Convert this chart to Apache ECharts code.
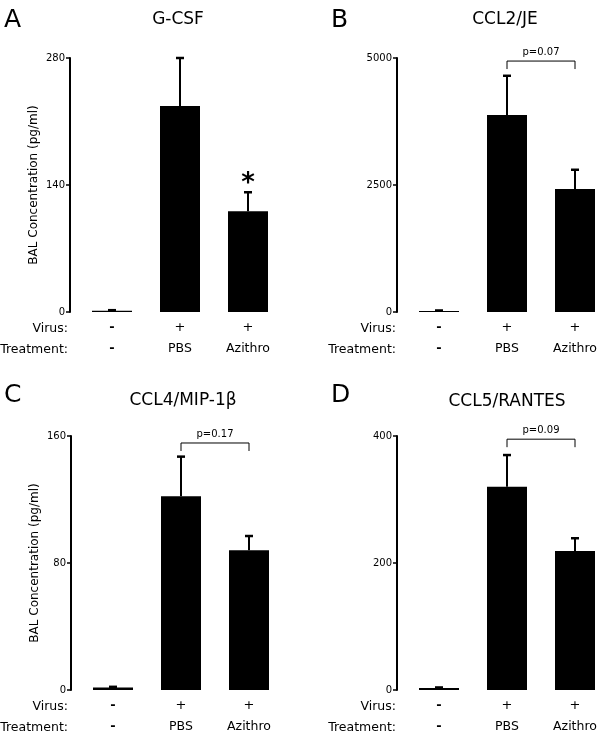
<!DOCTYPE html>
<html><head><meta charset="utf-8">
<script src="https://cdn.jsdelivr.net/npm/echarts@6/dist/echarts.min.js"></script>
<style>html,body{margin:0;padding:0;background:#fff}#c{width:600px;height:737px}</style>
</head><body><div id="c"></div>
<script>
const categories = ['Control', 'PBS', 'Azithro'];
const virusLabels = ['-', '+', '+'];
const treatmentLabels = ['-', 'PBS', 'Azithro'];

const panelLetters = ['A', 'B', 'C', 'D'];
const panelTitles = ['G-CSF', 'CCL2/JE', 'CCL4/MIP-1β', 'CCL5/RANTES'];

const gcsfMean = [1.5, 227, 111];
const gcsfErr = [0.5, 53, 21];
const ccl2Mean = [20, 3880, 2420];
const ccl2Err = [10, 770, 380];
const ccl4Mean = [1.5, 122, 88];
const ccl4Err = [0.5, 25, 9];
const ccl5Mean = [3, 320, 219];
const ccl5Err = [1, 50, 20];

const yMax = [280, 5000, 160, 400];
const yInterval = [140, 2500, 80, 200];
const sigMarks = [['', '', '*'], ['', '', ''], ['', '', ''], ['', '', '']];
const pTexts = [null, 'p=0.07', 'p=0.17', 'p=0.09'];
const bracketY = [null, 4940, 155.6, 395];

const means = [gcsfMean, ccl2Mean, ccl4Mean, ccl5Mean];
const errs = [gcsfErr, ccl2Err, ccl4Err, ccl5Err];

const FONT = 'DejaVu Sans';
const grids = [
  {left: 78, top: 58, width: 204, height: 254},
  {left: 405, top: 58, width: 204, height: 254},
  {left: 79, top: 436, width: 204, height: 254},
  {left: 405, top: 436, width: 204, height: 254}
].map(g => Object.assign(g, {containLabel: false, outerBoundsMode: 'none'}));

const chart = echarts.init(document.getElementById('c'), null, {renderer: 'canvas'});

const xAxes = [], yAxes = [], series = [], titles = [], graphics = [];
grids.forEach((g, i) => {
  xAxes.push({
    type: 'category', gridIndex: i, data: categories,
    axisLine: {show: false}, axisTick: {show: false},
    axisLabel: {
      margin: 5, interval: 0,
      formatter: (v, idx) => {
        const vv = virusLabels[idx] === '-' ? '{d|-}' : '{v|' + virusLabels[idx] + '}';
        const tt = treatmentLabels[idx] === '-' ? '{d|-}' : '{t|' + treatmentLabels[idx] + '}';
        return vv + '\n' + tt;
      },
      rich: {
        v: {fontFamily: FONT, fontSize: 13, color: '#000', lineHeight: 21},
        d: {fontFamily: FONT, fontSize: 13, fontWeight: 'bold', color: '#000', lineHeight: 21},
        t: {fontFamily: FONT, fontSize: 12.5, color: '#000', lineHeight: 21}
      }
    }
  });
  yAxes.push({
    type: 'value', gridIndex: i, min: 0, max: yMax[i], interval: yInterval[i], offset: 8,
    name: (i % 2 === 0) ? 'BAL Concentration (pg/ml)' : '',
    nameLocation: 'middle', nameGap: 30,
    nameTextStyle: {fontFamily: FONT, fontSize: 12, color: '#000'},
    axisLine: {show: true, lineStyle: {color: '#000', width: 2}},
    axisTick: {show: true, length: 4, lineStyle: {color: '#000', width: 1.5}},
    axisLabel: {fontFamily: FONT, fontSize: 10, color: '#000', margin: 5, formatter: v => String(v)},
    splitLine: {show: false}
  });
  series.push({
    type: 'bar', xAxisIndex: i, yAxisIndex: i, data: means[i], barWidth: 40,
    itemStyle: {color: '#000'}, silent: true, z: 2
  });
  const ebData = means[i].map((m, k) => [k, m, m + errs[i][k], sigMarks[i][k]]);
  series.push({
    type: 'custom', xAxisIndex: i, yAxisIndex: i, data: ebData, silent: true, z: 3,
    renderItem: (params, api) => {
      const k = api.value(0);
      const p0 = api.coord([k, api.value(1)]);
      const p1 = api.coord([k, api.value(2)]);
      const mark = ebData[params.dataIndex][3];
      const children = [
        {type: 'line', shape: {x1: p0[0], y1: p0[1], x2: p1[0], y2: p1[1]}, style: {stroke: '#000', lineWidth: 2}},
        {type: 'line', shape: {x1: p1[0] - 4, y1: p1[1], x2: p1[0] + 4, y2: p1[1]}, style: {stroke: '#000', lineWidth: 2.5}}
      ];
      if (mark) {
        children.push({type: 'text', style: {x: p1[0], y: p1[1] - 8, text: mark, fontFamily: FONT, fontSize: 26, fontWeight: 'bold', fill: '#000', align: 'center', verticalAlign: 'middle'}});
      }
      return {type: 'group', children};
    }
  });
  if (pTexts[i]) {
    const bData = [[1, 2, bracketY[i], pTexts[i]]];
    series.push({
      type: 'custom', xAxisIndex: i, yAxisIndex: i, data: bData, silent: true, z: 3,
      renderItem: (params, api) => {
        const a = api.coord([api.value(0), api.value(2)]);
        const b = api.coord([api.value(1), api.value(2)]);
        return {type: 'group', children: [
          {type: 'polyline', shape: {points: [[a[0], a[1] + 8], [a[0], a[1]], [b[0], b[1]], [b[0], b[1] + 8]]}, style: {stroke: '#000', lineWidth: 1, fill: null}},
          {type: 'text', style: {x: (a[0] + b[0]) / 2, y: a[1] - 9, text: bData[0][3], fontFamily: FONT, fontSize: 10, fill: '#000', align: 'center', verticalAlign: 'middle'}}
        ]};
      }
    });
  }
});

const letterPos = [[4, 8], [331, 8], [4, 383], [331, 383]];
const titlePos = [[178, 11], [505, 11], [183, 392], [507, 393]];
panelLetters.forEach((L, i) => {
  titles.push({text: L, left: letterPos[i][0], top: letterPos[i][1], textStyle: {fontFamily: FONT, fontSize: 25, fontWeight: 'normal', color: '#000'}, padding: 0});
  titles.push({text: panelTitles[i], left: titlePos[i][0], top: titlePos[i][1], textAlign: 'center', textStyle: {fontFamily: FONT, fontSize: 17, fontWeight: 'normal', color: '#000'}, padding: 0});
});

const rowLabelPos = [[68, 327, 348], [396, 327, 348], [68, 705, 726], [396, 705, 726]];
rowLabelPos.forEach(p => {
  graphics.push({type: 'text', right: 600 - p[0], top: p[1] - 5, style: {text: 'Virus:', fontFamily: FONT, fontSize: 12.5, fill: '#000'}});
  graphics.push({type: 'text', right: 600 - p[0], top: p[2] - 5, style: {text: 'Treatment:', fontFamily: FONT, fontSize: 12.5, fill: '#000'}});
});

chart.setOption({
  animation: false,
  backgroundColor: '#fff',
  title: titles,
  grid: grids,
  xAxis: xAxes,
  yAxis: yAxes,
  series: series,
  graphic: graphics
});
</script></body></html>
